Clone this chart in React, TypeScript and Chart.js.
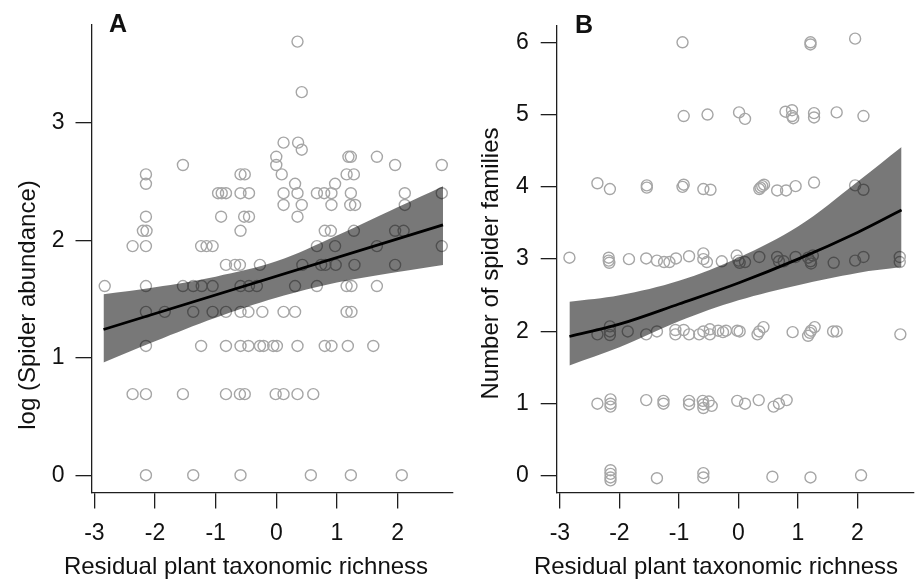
import React, { useEffect, useRef } from "react";
import { Chart, registerables } from "chart.js";

Chart.register(...registerables);

const FONT = "'Liberation Sans', Arial, Helvetica, sans-serif";

// ---------- shared tick labels ----------
const xTickValues = [-3, -2, -1, 0, 1, 2];
const aYTickValues = [0, 1, 2, 3];
const bYTickValues = [0, 1, 2, 3, 4, 5, 6];

// ---------- Panel A: log (Spider abundance) ----------
const aLevels = [3.69, 3.26, 2.83, 2.77, 2.71, 2.64, 2.56, 2.48, 2.4, 2.3, 2.2, 2.08, 1.95, 1.79, 1.61, 1.39, 1.1, 0.69, 0];
const aXAtLevel = [
  [0.35],
  [0.42],
  [0.12, 0.36],
  [0.42],
  [0.0, 1.19, 1.23, 1.66],
  [-1.54, 0.0, 1.96, 2.73],
  [-2.15, -0.59, -0.52, 0.09, 1.16, 1.28],
  [-2.15, 0.31, 0.97],
  [-0.96, -0.9, -0.83, -0.59, -0.45, 0.12, 0.35, 0.67, 0.79, 0.91, 1.23, 2.12, 2.73],
  [0.12, 0.42, 0.91, 1.22, 1.3, 2.12],
  [-2.15, -0.91, -0.53, -0.45, 0.35],
  [-2.2, -2.14, -0.59, 0.8, 0.9, 1.28, 1.96, 2.1],
  [-2.37, -2.15, -1.24, -1.15, -1.05, 0.67, 0.97, 1.66, 2.73],
  [-0.83, -0.68, -0.6, -0.27, 0.43, 0.74, 0.81, 0.98, 1.29, 1.96],
  [-2.83, -2.15, -1.54, -1.37, -1.23, -1.05, -0.59, -0.45, -0.32, 0.31, 0.67, 1.16, 1.24, 1.66],
  [-2.15, -1.84, -1.37, -1.05, -0.83, -0.59, -0.46, -0.23, 0.12, 0.31, 1.16, 1.24],
  [-2.15, -1.24, -0.83, -0.59, -0.46, -0.27, -0.21, -0.05, 0.01, 0.35, 0.8, 0.91, 1.18, 1.6],
  [-2.37, -2.15, -1.54, -0.83, -0.6, -0.52, -0.01, 0.12, 0.35, 0.61],
  [-2.15, -1.37, -0.59, 0.57, 1.23, 2.07],
];
const aFitX = [-2.85, 2.75];
const aFitY = [1.24, 2.13];
const aBandX = [-2.85, -2, -1, 0, 1, 2, 2.75];
const aBandUpper = [1.54, 1.6, 1.69, 1.82, 2.04, 2.28, 2.46];
const aBandLower = [0.96, 1.14, 1.34, 1.51, 1.64, 1.73, 1.79];

// ---------- Panel B: Number of spider families ----------
const bX = [
  -0.94, 1.21, 1.21, 1.96,
  -0.92, -0.52, 0.01, 0.11, 0.79, 0.9, 0.92, 0.9, 1.27, 1.27, 1.65, 2.1,
  -2.37, -2.16, -1.54, -1.54, -0.94, -0.92, -0.59, -0.47, 0.35, 0.37, 0.4, 0.43, 0.65, 0.8, 0.96, 1.27, 1.96, 2.1,
  -2.84, -2.18, -2.18, -2.17, -1.84, -1.55, -1.37, -1.25, -1.16, -1.05, -0.83, -0.59, -0.59, -0.53, -0.28, -0.03, 0.0, 0.02, 0.11, 0.35, 0.65, 0.68, 0.76, 0.96, 1.17, 1.21, 1.22, 1.25, 1.6, 1.96, 2.1, 2.71, 2.71,
  -2.37, -2.16, -2.16, -2.16, -1.86, -1.55, -1.37, -1.06, -1.06, -0.92, -0.83, -0.66, -0.59, -0.48, -0.48, -0.34, -0.26, -0.21, -0.02, 0.02, 0.32, 0.35, 0.42, 0.91, 1.17, 1.2, 1.22, 1.28, 1.59, 1.65, 2.72,
  -2.37, -2.15, -2.15, -2.15, -1.55, -1.26, -1.26, -0.83, -0.83, -0.6, -0.59, -0.59, -0.5, -0.45, -0.02, 0.11, 0.34, 0.59, 0.68, 0.81,
  -2.15, -2.15, -2.15, -2.15, -1.37, -0.59, -0.59, 0.57, 1.21, 2.06,
];
const bY = [
  6.0, 6.0, 5.97, 6.05,
  4.98, 5.0, 5.03, 4.94, 5.04, 5.06, 4.95, 4.98, 5.02, 4.96, 5.03, 4.98,
  4.05, 3.97, 4.02, 3.99, 4.0, 4.03, 3.97, 3.96, 3.97, 3.99, 4.01, 4.03, 3.95, 3.95, 4.01, 4.06, 4.02, 3.96,
  3.02, 2.98, 3.02, 2.95, 3.0, 3.01, 2.98, 2.96, 2.96, 3.01, 3.04, 3.08, 3.0, 2.96, 2.97, 3.05, 2.98, 2.95, 2.96, 3.03, 3.03, 2.97, 2.97, 3.03, 3.02, 2.97, 2.94, 3.05, 2.95, 2.98, 3.03, 3.03, 2.96,
  1.96, 2.07, 2.0, 1.95, 2.0, 1.96, 2.0, 2.02, 1.96, 2.02, 1.96, 1.96, 2.0, 2.03, 1.96, 2.01, 1.99, 2.01, 2.01, 2.0, 1.96, 2.0, 2.06, 1.99, 1.94, 1.98, 2.01, 2.06, 2.0, 2.0, 1.96,
  1.0, 1.06, 1.0, 0.96, 1.05, 1.04, 1.0, 1.04, 0.99, 1.04, 0.99, 0.94, 1.03, 0.97, 1.04, 1.0, 1.05, 0.96, 1.0, 1.05,
  0.08, 0.03, -0.02, -0.06, -0.03, 0.04, -0.02, -0.01, -0.02, 0.01,
];
const bCurveX = [-2.84, -2, -1, 0, 1, 2, 2.74];
const bCurve = [1.93, 2.1, 2.38, 2.67, 3.0, 3.37, 3.68];
const bUpper = [2.41, 2.5, 2.7, 3.02, 3.45, 4.07, 4.55];
const bLower = [1.53, 1.78, 2.14, 2.43, 2.64, 2.81, 2.89];

type Pt = { x: number; y: number };
const zip = (xs: number[], ys: number[]): Pt[] => xs.map((x, i) => ({ x, y: ys[i] }));

const aPoints: Pt[] = aLevels.flatMap((lv, i) => aXAtLevel[i].map((x) => ({ x, y: lv })));
const bPoints: Pt[] = zip(bX, bY);

interface PanelCfg {
  width: number;
  points: Pt[];
  lower: Pt[];
  upper: Pt[];
  fit: Pt[];
  fitTension: number;
  xMin: number;
  xMax: number;
  yMin: number;
  yMax: number;
  yTicks: number[];
  yScaleWidth: number;
  padRight: number;
  yTickPad: number;
  letter: string;
  letterX: number;
  letterY: number;
  xTitle: string;
  xTitleX: number;
  xTitleY: number;
  yTitle: string;
  yTitleX: number;
  yTitleY: number;
}

const AXIS = "#1e1e1e";
const TICK_SIZE = 23;

function textPlugin(c: PanelCfg) {
  return {
    id: "panelText" + c.letter,
    afterDraw(chart: any) {
      const ctx = chart.ctx as CanvasRenderingContext2D;
      ctx.save();
      ctx.fillStyle = "#111";
      ctx.textBaseline = "alphabetic";
      ctx.textAlign = "left";
      ctx.font = `bold 25px ${FONT}`;
      ctx.fillText(c.letter, c.letterX, c.letterY);
      ctx.font = `24px ${FONT}`;
      ctx.textAlign = "center";
      ctx.fillText(c.xTitle, c.xTitleX, c.xTitleY);
      ctx.translate(c.yTitleX, c.yTitleY);
      ctx.rotate(-Math.PI / 2);
      ctx.fillText(c.yTitle, 0, 0);
      ctx.restore();
    },
  };
}

function buildConfig(c: PanelCfg): any {
  return {
    type: "line",
    data: {
      datasets: [
        {
          label: "points",
          data: c.points,
          showLine: false,
          pointRadius: 5.5,
          pointBorderWidth: 1.4,
          pointBorderColor: "#a6a6a6",
          pointBackgroundColor: "rgba(0,0,0,0)",
          order: 4,
        },
        {
          label: "lower",
          data: c.lower,
          borderWidth: 0,
          borderColor: "rgba(0,0,0,0)",
          pointRadius: 0,
          tension: 0.35,
          fill: false,
          order: 3,
        },
        {
          label: "upper",
          data: c.upper,
          borderWidth: 0,
          borderColor: "rgba(0,0,0,0)",
          backgroundColor: "rgba(0,0,0,0.53)",
          pointRadius: 0,
          tension: 0.35,
          fill: 1,
          order: 2,
        },
        {
          label: "fit",
          data: c.fit,
          borderWidth: 2.8,
          borderColor: "#000",
          pointRadius: 0,
          tension: c.fitTension,
          fill: false,
          order: 1,
        },
      ],
    },
    options: {
      animation: false,
      responsive: false,
      maintainAspectRatio: false,
      events: [],
      layout: { padding: { left: 0, top: 22, right: c.padRight, bottom: 0 } },
      plugins: { legend: { display: false }, tooltip: { enabled: false }, title: { display: false } },
      scales: {
        x: {
          type: "linear",
          min: c.xMin,
          max: c.xMax,
          afterBuildTicks: (s: any) => {
            s.ticks = xTickValues.map((v) => ({ value: v }));
          },
          afterFit: (s: any) => {
            s.height = 89.5;
          },
          grid: { display: true, drawOnChartArea: false, drawTicks: true, tickLength: 16, color: AXIS, lineWidth: 1.3 },
          border: { display: true, color: AXIS, width: 1.3 },
          ticks: {
            autoSkip: false,
            maxRotation: 0,
            padding: 11,
            color: "#111",
            font: { family: FONT, size: TICK_SIZE },
            callback: (v: any) => `${v}`,
          },
        },
        y: {
          type: "linear",
          min: c.yMin,
          max: c.yMax,
          afterBuildTicks: (s: any) => {
            s.ticks = c.yTicks.map((v) => ({ value: v }));
          },
          afterFit: (s: any) => {
            s.width = c.yScaleWidth;
          },
          grid: { display: true, drawOnChartArea: false, drawTicks: true, tickLength: 16, color: AXIS, lineWidth: 1.3 },
          border: { display: true, color: AXIS, width: 1.3 },
          ticks: {
            autoSkip: false,
            padding: c.yTickPad,
            color: "#111",
            font: { family: FONT, size: TICK_SIZE },
            callback: (v: any) => `${v}`,
          },
        },
      },
    },
    plugins: [textPlugin(c)],
  };
}

const panelA: PanelCfg = {
  width: 460,
  points: aPoints,
  lower: zip(aBandX, aBandLower),
  upper: zip(aBandX, aBandUpper),
  fit: zip(aFitX, aFitY),
  fitTension: 0,
  xMin: -3.048,
  xMax: 2.915,
  yMin: -0.147,
  yMax: 3.833,
  yTicks: aYTickValues,
  yScaleWidth: 91.5,
  padRight: 7,
  yTickPad: 11,
  letter: "A",
  letterX: 109,
  letterY: 32,
  xTitle: "Residual plant taxonomic richness",
  xTitleX: 246,
  xTitleY: 574,
  yTitle: "log (Spider abundance)",
  yTitleX: 35,
  yTitleY: 305,
};

const panelB: PanelCfg = {
  width: 461,
  points: bPoints,
  lower: zip(bCurveX, bLower),
  upper: zip(bCurveX, bUpper),
  fit: zip(bCurveX, bCurve),
  fitTension: 0.35,
  xMin: -3.054,
  xMax: 2.951,
  yMin: -0.228,
  yMax: 6.228,
  yTicks: bYTickValues,
  yScaleWidth: 96.7,
  padRight: 0,
  yTickPad: 12,
  letter: "B",
  letterX: 115,
  letterY: 33,
  xTitle: "Residual plant taxonomic richness",
  xTitleX: 256,
  xTitleY: 574,
  yTitle: "Number of spider families",
  yTitleX: 38,
  yTitleY: 263.5,
};

function Panel({ cfg, left }: { cfg: PanelCfg; left: number }) {
  const ref = useRef<HTMLCanvasElement | null>(null);
  useEffect(() => {
    if (!ref.current) return;
    const chart = new Chart(ref.current, buildConfig(cfg));
    return () => chart.destroy();
  }, [cfg]);
  return (
    <canvas
      ref={ref}
      width={cfg.width}
      height={582}
      style={{ position: "absolute", left, top: 0, width: cfg.width, height: 582 }}
    />
  );
}

export default function App() {
  return (
    <div style={{ position: "fixed", left: 0, top: 0, width: 921, height: 582, background: "#fff", overflow: "hidden" }}>
      <Panel cfg={panelA} left={0} />
      <Panel cfg={panelB} left={460} />
    </div>
  );
}
